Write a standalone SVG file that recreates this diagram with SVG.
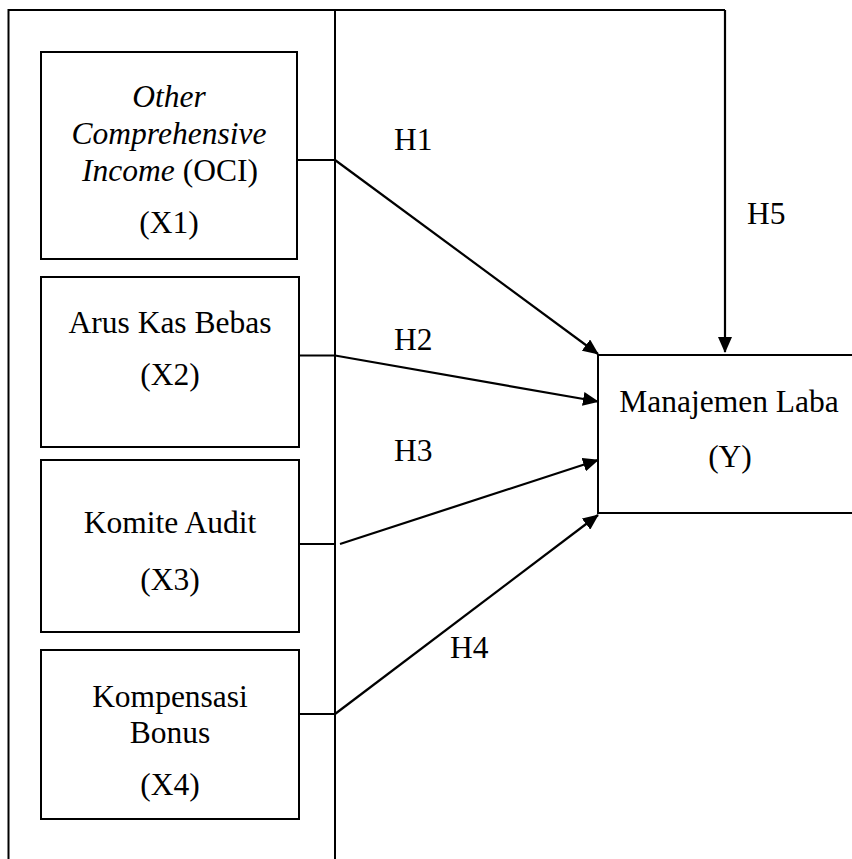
<svg xmlns="http://www.w3.org/2000/svg" width="852" height="859" viewBox="0 0 852 859">
<style>
.box{fill:#fff;stroke:#000;stroke-width:2}
.ln{fill:none;stroke:#000;stroke-width:2}
.ar{fill:none;stroke:#000;stroke-width:2.2;marker-end:url(#ah)}
text{font-family:"Liberation Serif","Times New Roman",serif;font-size:31.5px;fill:#000}
.c{text-anchor:middle}
</style>
<defs>
<marker id="ah" markerUnits="userSpaceOnUse" markerWidth="16" markerHeight="14" refX="15" refY="7" orient="auto">
<path d="M0,0 L16,7 L0,14 Z" fill="#000"/>
</marker>
</defs>
<rect width="852" height="859" fill="#fff"/>
<g id="frame">
<path class="ln" d="M8.5,859 L8.5,10 L725,10"/>
<path class="ln" d="M335,10 L335,859"/>
</g>
<g id="x1">
<rect class="box" x="41" y="52" width="256" height="207"/>
<text class="c" x="169" y="107" font-style="italic">Other</text>
<text class="c" x="169" y="144" font-style="italic">Comprehensive</text>
<text class="c" x="170" y="181"><tspan font-style="italic">Income</tspan> (OCI)</text>
<text class="c" x="169" y="233">(X1)</text>
</g>
<g id="x2">
<rect class="box" x="41" y="277" width="258" height="170"/>
<text class="c" x="170" y="333">Arus Kas Bebas</text>
<text class="c" x="170" y="385">(X2)</text>
</g>
<g id="x3">
<rect class="box" x="41" y="460" width="258" height="172"/>
<text class="c" x="170" y="533">Komite Audit</text>
<text class="c" x="170" y="590">(X3)</text>
</g>
<g id="x4">
<rect class="box" x="41" y="650" width="258" height="169"/>
<text class="c" x="170" y="707">Kompensasi</text>
<text class="c" x="170" y="743">Bonus</text>
<text class="c" x="170" y="795">(X4)</text>
</g>
<g id="y">
<path class="ln" d="M852,355 L598,355 L598,513 L852,513"/>
<text class="c" x="729" y="412">Manajemen Laba</text>
<text class="c" x="730" y="467">(Y)</text>
</g>
<g id="connectors">
<path class="ln" d="M297,160 L335,160"/>
<path class="ar" d="M335,160 L598,354"/>
<path class="ln" d="M299,355.5 L335,355.5"/>
<path class="ar" d="M335,355.5 L598,401.5"/>
<path class="ln" d="M299,544 L335,544"/>
<path class="ar" d="M340,544 L598,460"/>
<path class="ln" d="M299,714 L335,714"/>
<path class="ar" d="M335,714 L598,515"/>
<path class="ar" d="M725,10 L725,352"/>
<text x="394" y="150">H1</text>
<text x="394" y="350">H2</text>
<text x="394" y="461">H3</text>
<text x="450" y="658">H4</text>
<text x="747" y="224">H5</text>
</g>
</svg>
